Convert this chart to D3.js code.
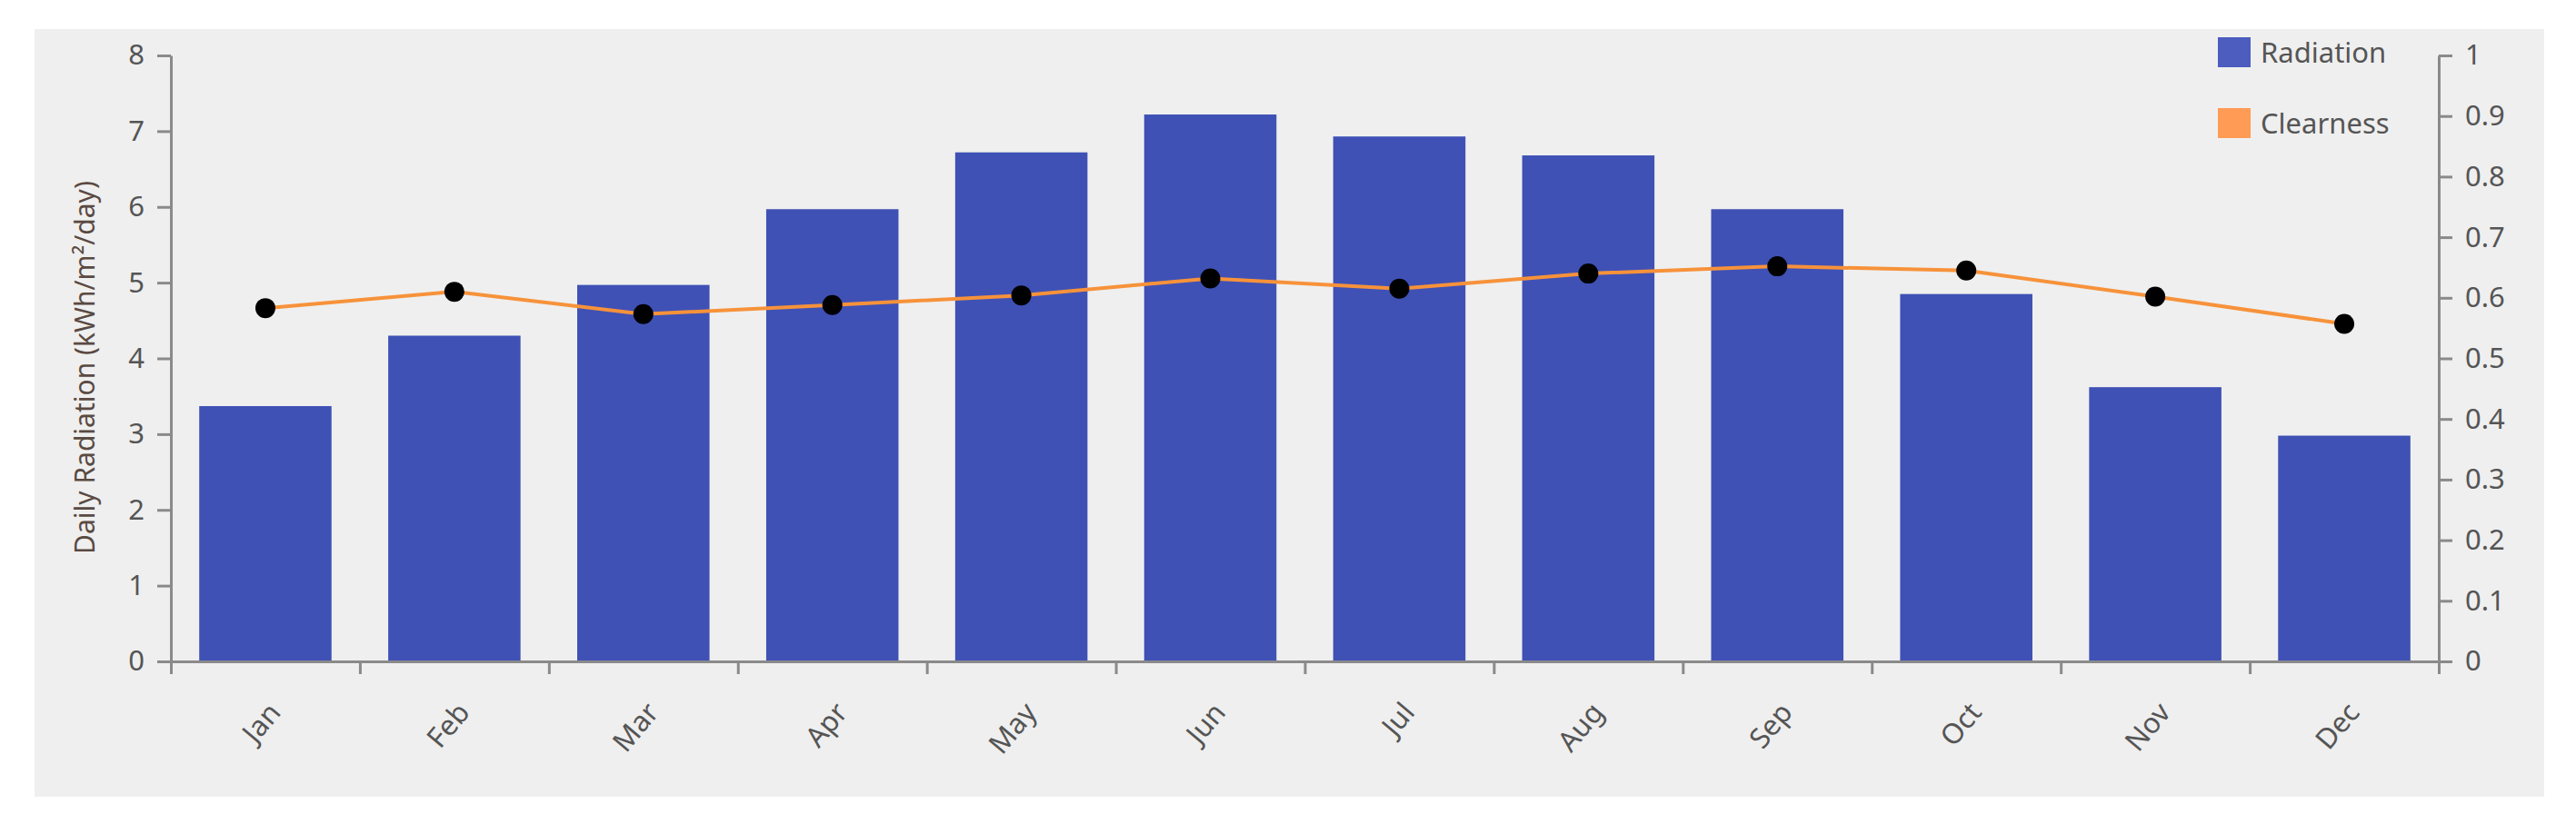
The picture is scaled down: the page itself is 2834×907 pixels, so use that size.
<!DOCTYPE html>
<html><head><meta charset="utf-8">
<script src="https://cdn.jsdelivr.net/npm/d3@7"></script>
<style>body{margin:0;background:#fff}</style></head>
<body><svg id="canvas" width="2834" height="907"></svg>
<script>
// chart data
let months = ['Jan','Feb','Mar','Apr','May','Jun','Jul','Aug','Sep','Oct','Nov','Dec']
let radiation = [3.37, 4.30, 4.97, 5.97, 6.72, 7.22, 6.93, 6.68, 5.97, 4.85, 3.62, 2.98]
let clearness = [0.583, 0.610, 0.573, 0.588, 0.604, 0.632, 0.615, 0.640, 0.652, 0.645, 0.602, 0.557]
let leftTicks = [0,1,2,3,4,5,6,7,8]
let rightTicks = [0,0.1,0.2,0.3,0.4,0.5,0.6,0.7,0.8,0.9,1]

let canvas = d3.select('#canvas')
let font = 'Segoe UI, Noto Sans, sans-serif'
let axisColor = '#8a8a8a'
let textColor = '#555'

canvas.append('rect').attr('x', 38).attr('y', 32).attr('width', 2761).attr('height', 845).attr('fill', '#efefef')

let plotLeft = 188, plotRight = 2683, plotTop = 61, plotBottom = 728

let x = d3.scaleBand().domain(months).range([plotLeft, plotRight]).paddingInner(0.3).paddingOuter(0.15)
let yL = d3.scaleLinear().domain([0, 8]).range([plotBottom, plotTop])
let yR = d3.scaleLinear().domain([0, 1]).range([plotBottom, plotTop])

// bars
canvas.selectAll('.bar').data(radiation).enter().append('rect')
    .attr('x', (d, i) => x(months[i]))
    .attr('y', (d) => yL(d))
    .attr('width', x.bandwidth())
    .attr('height', (d) => yL(0) - yL(d))
    .attr('fill', '#3f51b5')

// axes
let styleAxis = (g) => {
    g.selectAll('path, line').attr('stroke', axisColor).attr('stroke-width', 3)
    g.selectAll('text').attr('fill', textColor).style('font-family', font).style('font-size', '31px')
}
canvas.append('g').attr('transform', 'translate(' + plotLeft + ',0)')
    .call(d3.axisLeft(yL).tickValues(leftTicks).tickSize(15).tickSizeOuter(0).tickPadding(14))
    .call(styleAxis)
canvas.append('g').attr('transform', 'translate(' + plotRight + ',0)')
    .call(d3.axisRight(yR).tickValues(rightTicks).tickSize(15).tickSizeOuter(0).tickPadding(14).tickFormat(d3.format('~g')))
    .call(styleAxis)

// x axis: ticks at band boundaries
let xb = d3.scaleLinear().domain([0, 12]).range([plotLeft, plotRight])
let xg = canvas.append('g').attr('transform', 'translate(0,' + plotBottom + ')')
    .call(d3.axisBottom(xb).ticks(12).tickSize(14).tickSizeOuter(0).tickFormat(''))
styleAxis(xg)
canvas.selectAll('.mlabel').data(months).enter().append('text')
    .attr('transform', (d) => 'translate(' + (x(d) + x.bandwidth() / 2 + 10) + ',' + (plotBottom + 50) + ') rotate(-50)')
    .attr('text-anchor', 'end')
    .attr('dy', '0.35em')
    .attr('fill', textColor).style('font-family', font).style('font-size', '31px')
    .text((d) => d)

// y title
canvas.append('text')
    .attr('transform', 'translate(93,' + ((plotTop + plotBottom) / 2 + 10) + ') rotate(-90)')
    .attr('text-anchor', 'middle').attr('dy', '0.35em')
    .attr('fill', '#5a4a42').style('font-family', font).style('font-size', '30px')
    .text('Daily Radiation (kWh/m²/day)')

// clearness line
let line = d3.line().x((d, i) => x(months[i]) + x.bandwidth() / 2).y((d) => yR(d))
canvas.append('path').datum(clearness).attr('d', line)
    .attr('fill', 'none').attr('stroke', '#f7923a').attr('stroke-width', 4)
canvas.selectAll('.dot').data(clearness).enter().append('circle')
    .attr('cx', (d, i) => x(months[i]) + x.bandwidth() / 2)
    .attr('cy', (d) => yR(d))
    .attr('r', 11).attr('fill', '#000')

// legend
let legend = [['Radiation', '#4c5dbf'], ['Clearness', '#ff9b55']]
let lg = canvas.selectAll('.leg').data(legend).enter().append('g')
    .attr('transform', (d, i) => 'translate(2440,' + (41 + i * 78) + ')')
lg.append('rect').attr('width', 36).attr('height', 33).attr('fill', (d) => d[1])
lg.append('text').attr('x', 47).attr('y', 17).attr('dy', '0.35em')
    .attr('fill', textColor).style('font-family', font).style('font-size', '31px')
    .text((d) => d[0])
</script></body></html>
